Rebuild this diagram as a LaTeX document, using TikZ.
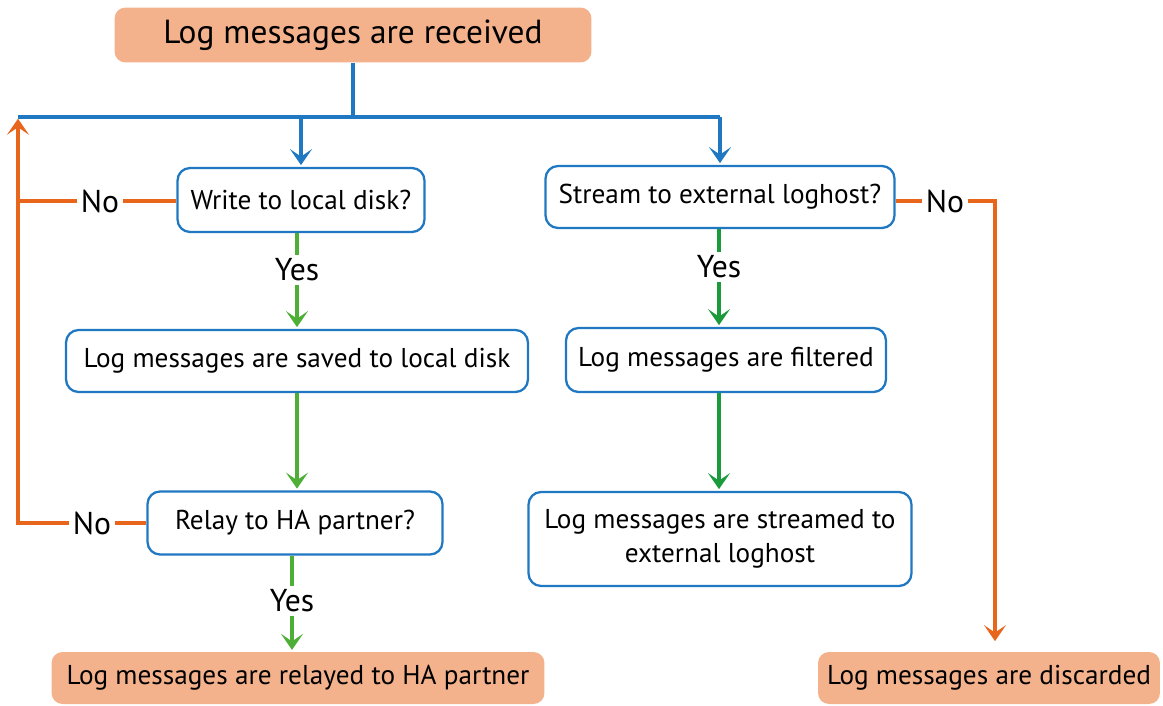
\documentclass[tikz,border=0pt]{standalone}
\usepackage{fontspec}
\setmainfont{PT Sans}
\usepackage{tikz}
\usetikzlibrary{arrows.meta}
\usepackage{xcolor}
\definecolor{boxblue}{HTML}{1F78C1}
\definecolor{salmon}{HTML}{F4B28C}
\definecolor{orng}{HTML}{E8661C}
\definecolor{lgreen}{HTML}{4DAF35}
\definecolor{dgreen}{HTML}{1B9A3C}

\begin{document}
\begin{tikzpicture}[x=0.02cm, y=-0.02cm,
  qbox/.style={draw=boxblue, line width=1.3pt, fill=white, rounded corners=0.25cm, inner sep=0pt, font=\fontsize{15.5}{19}\selectfont, align=center},
  endbox/.style={fill=salmon, rounded corners=0.22cm, inner sep=0pt, font=\fontsize{15.5}{19}\selectfont},
  lab/.style={inner sep=2pt, font=\fontsize{18}{21}\selectfont},
  bline/.style={boxblue, line width=2.6pt},
  gline/.style={lgreen, line width=2.6pt},
  dline/.style={dgreen, line width=2.6pt},
  oline/.style={orng, line width=2.2pt},
  tip/.style={-{Stealth[length=0.32cm, width=0.44cm, inset=0.15cm]}, shorten >=1pt}
]
\useasboundingbox (0,0) rectangle (1163,706);

% boxes %
\node[endbox, minimum width=9.54cm, minimum height=1.1cm, font=\fontsize{19}{22}\selectfont] (recv) at (353,35) {Log messages are received};

\node[qbox, minimum width=4.94cm, minimum height=1.28cm] (write) at (301,200) {Write to local disk?};
\node[qbox, minimum width=9.24cm, minimum height=1.24cm] (saved) at (297,361) {Log messages are saved to local disk};
\node[qbox, minimum width=5.9cm, minimum height=1.26cm] (relay) at (295,523) {Relay to HA partner?};
\node[endbox, minimum width=9.86cm, minimum height=1.04cm] (relayed) at (298,678) {Log messages are relayed to HA partner};

\node[qbox, minimum width=6.98cm, minimum height=1.24cm] (stream) at (720,197) {Stream to external loghost?};
\node[qbox, minimum width=6.4cm, minimum height=1.28cm] (filt) at (726,360) {Log messages are filtered};
\node[qbox, minimum width=7.66cm, minimum height=1.88cm] (streamed) at (720,539) {Log messages are streamed to\\external loghost};
\node[endbox, minimum width=6.84cm, minimum height=1.04cm] (discard) at (989,678) {Log messages are discarded};

% labels
\node[lab] (yes1) at (297,270) {Yes};
\node[lab] (yes2) at (292,601) {Yes};
\node[lab] (yes3) at (719,267) {Yes};
\node[lab] (no1) at (100,201) {No};
\node[lab] (no2) at (92,523) {No};
\node[lab] (no3) at (945,201) {No};

\coordinate (busL) at (18,117);
\coordinate (busR) at (720,117);
\coordinate (dropR) at (995,201);

% blue bus
\draw[bline] (recv.south) -- (recv.south |- busL);
\draw[bline] (busL) -- (busR);
\draw[bline, tip] (busL -| write) -- (write.north);
\draw[bline, tip] (busR) -- (stream.north);

% yes branches
\draw[gline] (write.south -| yes1) -- (yes1);
\draw[gline, tip] (yes1) -- (saved.north -| yes1);
\draw[gline, tip] (saved.south) -- (relay.north -| saved.south);
\draw[gline] (relay.south -| yes2) -- (yes2);
\draw[gline, tip] (yes2) -- (relayed.north -| yes2);
\draw[dline] (stream.south -| yes3) -- (yes3);
\draw[dline, tip] (yes3) -- (filt.north -| yes3);
\draw[dline, tip] (filt.south -| yes3) -- (streamed.north -| yes3);

% no branches
\draw[oline] (no1 -| write.west) -- (no1);
\draw[oline] (no1) -- (no1 -| busL);
\draw[oline] (relay.west) -- (no2);
\draw[oline, tip] (no2) -| (busL);
\draw[oline] (no3 -| stream.east) -- (no3);
\draw[oline, tip, shorten >=6pt] (no3) -- (dropR) -- (dropR |- discard.north);

\end{tikzpicture}
\end{document}
